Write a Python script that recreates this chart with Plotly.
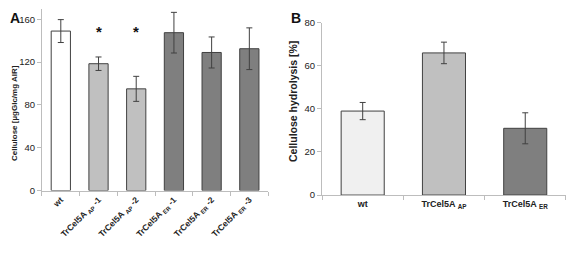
import plotly.graph_objects as go

# Panel A data
a_labels = ["wt", "TrCel5A <sub>AP</sub> -1", "TrCel5A <sub>AP</sub> -2",
            "TrCel5A <sub>ER</sub> -1", "TrCel5A <sub>ER</sub> -2", "TrCel5A <sub>ER</sub> -3"]
a_values = [149, 118.5, 95, 147.5, 129, 132.5]
a_errors = [10.7, 6.3, 11.7, 19, 14.5, 19.5]
a_colors = ["#ffffff", "#c0c0c0", "#c0c0c0", "#7f7f7f", "#7f7f7f", "#7f7f7f"]
a_star_cats = ["TrCel5A <sub>AP</sub> -1", "TrCel5A <sub>AP</sub> -2"]
a_star_y = [149, 149]
a_ticks = [0, 40, 80, 120, 160]

# Panel B data
b_labels = ["wt", "TrCel5A <sub>AP</sub>", "TrCel5A <sub>ER</sub>"]
b_values = [39, 66, 31]
b_errors = [4, 5, 7.2]
b_colors = ["#f0f0f0", "#c0c0c0", "#7f7f7f"]
b_ticks = [0, 20, 40, 60, 80]

FONT = "Liberation Sans, Arial, sans-serif"
AXC = "#bdbdbd"
OUT = "#404040"

fig = go.Figure()
fig.add_trace(go.Bar(
    x=a_labels, y=a_values, width=0.51,
    marker=dict(color=a_colors, line=dict(color=OUT, width=1)),
    error_y=dict(type="data", array=a_errors, color=OUT, thickness=1, width=3),
    xaxis="x", yaxis="y", showlegend=False))
fig.add_trace(go.Bar(
    x=b_labels, y=b_values, width=0.53,
    marker=dict(color=b_colors, line=dict(color=OUT, width=1)),
    error_y=dict(type="data", array=b_errors, color=OUT, thickness=1, width=3),
    xaxis="x2", yaxis="y2", showlegend=False))

for c, yv in zip(a_star_cats, a_star_y):
    fig.add_annotation(x=c, y=yv, xref="x", yref="y", text="<b>*</b>",
                       showarrow=False, font=dict(size=15, color="#111", family=FONT),
                       yanchor="middle")

common_x = dict(type="category", tickson="boundaries", ticks="outside", ticklen=4,
                tickcolor=AXC, showline=True, linecolor=AXC, linewidth=1,
                showgrid=False, zeroline=False, automargin=False)
common_y = dict(ticks="outside", ticklen=4, tickcolor=AXC, showline=True,
                linecolor=AXC, linewidth=1, showgrid=False, zeroline=False,
                automargin=False,
                tickfont=dict(size=9.5, color="#222", family=FONT))

fig.update_layout(
    width=567, height=253, margin=dict(l=0, r=0, t=0, b=0),
    paper_bgcolor="white", plot_bgcolor="white", bargap=0.5,
    font=dict(family=FONT, color="#222"),
    xaxis=dict(domain=[0.074, 0.473], anchor="y", tickangle=-45,
               tickfont=dict(size=8.5, color="#222", family=FONT), **common_x),
    yaxis=dict(domain=[0.247, 0.966], anchor="x", range=[0, 170],
               tickvals=a_ticks, **common_y),
    xaxis2=dict(domain=[0.568, 0.998], anchor="y2", tickangle=0,
                tickfont=dict(size=9, color="#222", family=FONT), **common_x),
    yaxis2=dict(domain=[0.229, 0.910], anchor="x2", range=[0, 80],
                tickvals=b_ticks, **common_y),
)

# Bold tick labels
fig.update_xaxes(tickprefix="<b>", ticksuffix="</b>")

# Axis titles and panel letters
fig.add_annotation(x=7.5 / 567, y=1 - 113 / 253, xref="paper", yref="paper",
                   text="<b>Cellulose [µgGlc/mg AIR]</b>", textangle=-90, showarrow=False,
                   font=dict(size=8, color="#222", family=FONT))
fig.add_annotation(x=293 / 567, y=1 - 102 / 253, xref="paper", yref="paper",
                   text="<b>Cellulose hydrolysis [%]</b>", textangle=-90, showarrow=False,
                   font=dict(size=10.5, color="#222", family=FONT))
fig.add_annotation(x=9 / 567, y=1 - 9 / 253, xref="paper", yref="paper",
                   text="<b>A</b>", showarrow=False, borderpad=0,
                   font=dict(size=14, color="#111", family=FONT))
fig.add_annotation(x=296 / 567, y=1 - 9 / 253, xref="paper", yref="paper",
                   text="<b>B</b>", showarrow=False, borderpad=0,
                   font=dict(size=14, color="#111", family=FONT))

fig.write_html("out.html", config={"displayModeBar": False},
               post_script="document.body.style.margin='0';document.body.style.padding='0';")
